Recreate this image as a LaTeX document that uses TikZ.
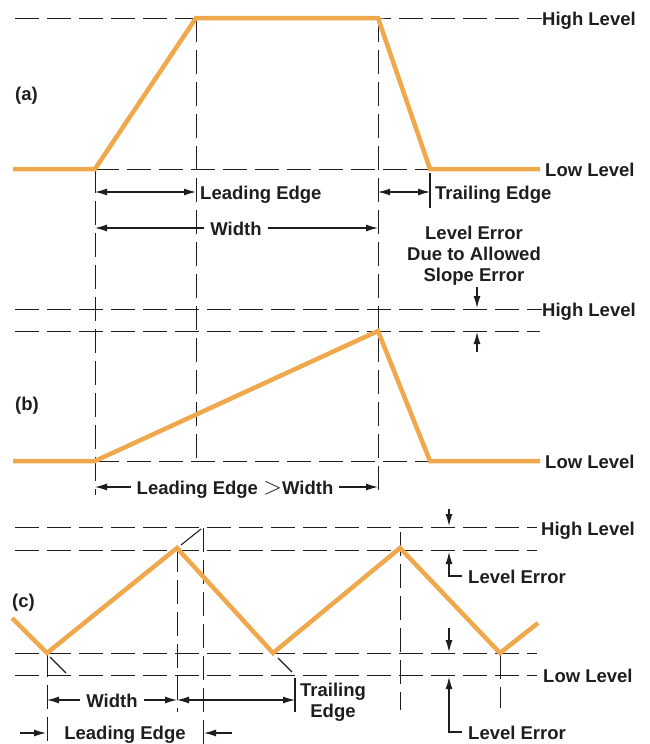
\documentclass[tikz,border=0pt]{standalone}
\usepackage{fontspec}
\newfontfamily\lblfont{Liberation Sans Bold}
\usetikzlibrary{arrows.meta}

\definecolor{pulse}{RGB}{240,168,76}
\definecolor{ink}{RGB}{30,30,30}

\begin{document}
\begin{tikzpicture}[x=1pt, y=-1pt,
    guide/.style={draw=ink, line width=0.9pt, dash pattern=on 24pt off 8pt},
    wave/.style={draw=pulse, line width=4.5pt},
    tick/.style={draw=ink, line width=1.1pt},
    dim/.style={tick, -{Latex[length=12pt,width=7pt]}},
    dimboth/.style={tick, {Latex[length=12pt,width=7pt]}-{Latex[length=12pt,width=7pt]}},
    lbl/.style={text=ink, font=\lblfont\fontsize{18.5}{21}\selectfont, inner sep=0pt},
    gap/.style={lbl, inner xsep=6pt},
  ]
    \useasboundingbox (0,0) rectangle (649,744);

    % (a) ideal pulse
    \coordinate (a0) at (13,169);
    \coordinate (a1) at (95,169);
    \coordinate (a2) at (196,18);
    \coordinate (a3) at (378,18);
    \coordinate (a4) at (430,169);
    \coordinate (a5) at (540,169);
    \node [lbl, anchor=base west] (ta) at (15,100) {(a)};
    \node [lbl, anchor=base west] (ahigh) at (542,25) {High Level};
    \node [lbl, anchor=base west] (alow) at (545,176) {Low Level};

    \draw [guide] (15,18) -- (a3) -- (542,18);
    \draw [guide] (a1) -- (a4);
    \draw [guide] (a1) -- (95,495);
    \draw [guide] (a2) -- (196,461);
    \draw [guide] (a3) -- (378,495);
    \draw [tick] (430,173) -- (430,208);
    \draw [wave] (a0) -- (a1) -- (a2) -- (a3) -- (a4) -- (a5);

    \draw [dimboth] (95,192) -- (196,192);
    \node [lbl, anchor=base west] (alead) at (200,199) {Leading Edge};
    \draw [dimboth] (378,192) -- (430,192);
    \node [lbl, anchor=base west] (atrail) at (435,199) {Trailing Edge};
    \node [gap, anchor=base] (awidth) at (236,235) {Width};
    \draw [dim] ([yshift=7pt]awidth.base west) -- (95,228);
    \draw [dim] ([yshift=7pt]awidth.base east) -- (378,228);

    \node [lbl, align=center] (slope) at (474,256) {Level Error\\Due to Allowed\\Slope Error};
    \draw [dim] (477,287) -- (477,308);
    \draw [dim] (477,352) -- (477,332);

    % (b) slow leading edge
    \coordinate (b0) at (13,461);
    \coordinate (b1) at (95,461);
    \coordinate (b2) at (378,331);
    \coordinate (b3) at (430,461);
    \coordinate (b4) at (540,461);
    \node [lbl, anchor=base west] (tb) at (15,410) {(b)};
    \node [lbl, anchor=base west] (bhigh) at (542,316) {High Level};
    \node [lbl, anchor=base west] (blow) at (545,468) {Low Level};

    \draw [guide] (15,309) -- (542,309);
    \draw [guide] (15,331) -- (540,331);
    \draw [guide] (b1) -- (b3);
    \draw [wave] (b0) -- (b1) -- (b2) -- (b3) -- (b4);

    \node [gap, anchor=base] (blead) at (235,494) {Leading Edge {\fontsize{24}{24}\selectfont$>$}Width};
    \draw [dim] ([yshift=7pt]blead.base west) -- (95,487);
    \draw [dim] ([yshift=7pt]blead.base east) -- (378,487);

    % (c) triangle wave
    \coordinate (c0) at (12,618);
    \coordinate (c1) at (47,653);
    \coordinate (c2) at (177,548);
    \coordinate (c3) at (273,653);
    \coordinate (c4) at (400,548);
    \coordinate (c5) at (500,653);
    \coordinate (c6) at (538,623);
    \node [lbl, anchor=base west] (tc) at (12,607) {(c)};
    \node [lbl, anchor=base west] (chigh) at (541,535) {High Level};
    \node [lbl, anchor=base west] (clow) at (543,682) {Low Level};

    \foreach \yy in {527,550,653,675}
        \draw [guide] (15,\yy) -- (537,\yy);
    \draw [tick] (50,657) -- (66,673);
    \draw [tick] (181,545) -- (201,529);
    \draw [tick] (278,658) -- (292,672);
    \draw [guide] (c1) -- (47,744);
    \draw [guide] (c2) -- (177,712);
    \draw [guide] (203,528) -- (203,744);
    \draw [guide] (400,532) -- (400,710);
    \draw [guide] (500,655) -- (500,708);
    \draw [wave] (c0) -- (c1) -- (c2) -- (c3) -- (c4) -- (c5) -- (c6);

    \node [gap, anchor=base] (cwidth) at (112,707) {Width};
    \draw [dim] ([yshift=7pt]cwidth.base west) -- (47,700);
    \draw [dim] ([yshift=7pt]cwidth.base east) -- (177,700);
    \draw [dimboth] (177,700) -- (295,700);
    \draw [tick] (295,678) -- (295,712);
    \node [lbl, align=center] (ctrail) at (333,702) {Trailing\\Edge};

    \node [lbl, anchor=base] (clead) at (125,739) {Leading Edge};
    \draw [dim] (20,733) -- (46,733);
    \draw [dim] (232,733) -- (204,733);

    \node [gap, anchor=base west] (err1) at (462,583) {Level Error};
    \node [gap, anchor=base west] (err2) at (462,739) {Level Error};
    \draw [dim] (449,509) -- (449,526);
    \draw [dim] ([yshift=7pt]err1.base west) -| (449,552);
    \draw [dim] (449,628) -- (449,652);
    \draw [dim] ([yshift=7pt]err2.base west) -| (449,677);
\end{tikzpicture}
\end{document}
